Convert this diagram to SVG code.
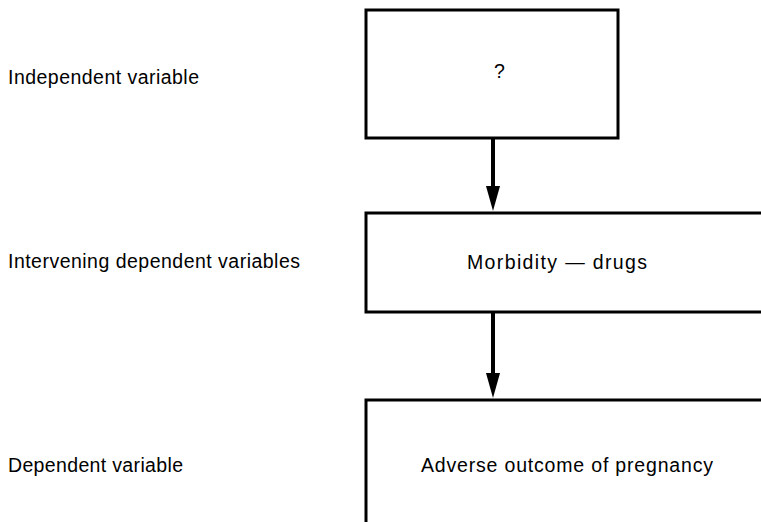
<svg xmlns="http://www.w3.org/2000/svg" width="761" height="522" viewBox="0 0 761 522">
<style>
.box{fill:none;stroke:#000;stroke-width:3}
.lbl{font-family:"Liberation Sans",Arial,sans-serif;font-size:19.5px;fill:#000}
.edge{stroke:#000;stroke-width:4;fill:none}
.head{fill:#000}
</style>
<rect width="761" height="522" fill="#fff"/>
<g id="labels">
<text class="lbl" x="8" y="84" textLength="191" lengthAdjust="spacing">Independent variable</text>
<text class="lbl" x="8" y="268" textLength="292" lengthAdjust="spacing">Intervening dependent variables</text>
<text class="lbl" x="8" y="472" textLength="175" lengthAdjust="spacing">Dependent variable</text>
</g>
<g id="node-independent">
<rect class="box" x="366" y="10" width="252" height="128"/>
<text class="lbl" x="494" y="78">?</text>
</g>
<g id="node-intervening">
<path class="box" d="M765,213 H366 V312 H765"/>
<text class="lbl" x="467" y="269" textLength="180" lengthAdjust="spacing">Morbidity —  drugs</text>
</g>
<g id="node-dependent">
<path class="box" d="M765,400 H366 V525"/>
<text class="lbl" x="421" y="472" textLength="292" lengthAdjust="spacing">Adverse outcome of pregnancy</text>
</g>
<g id="connectors">
<line class="edge" x1="493" y1="139" x2="493" y2="186"/>
<path class="head" d="M486,186 L500,186 L493,211 Z"/>
<line class="edge" x1="493" y1="313" x2="493" y2="373"/>
<path class="head" d="M486,373 L500,373 L493,398 Z"/>
</g>
</svg>
